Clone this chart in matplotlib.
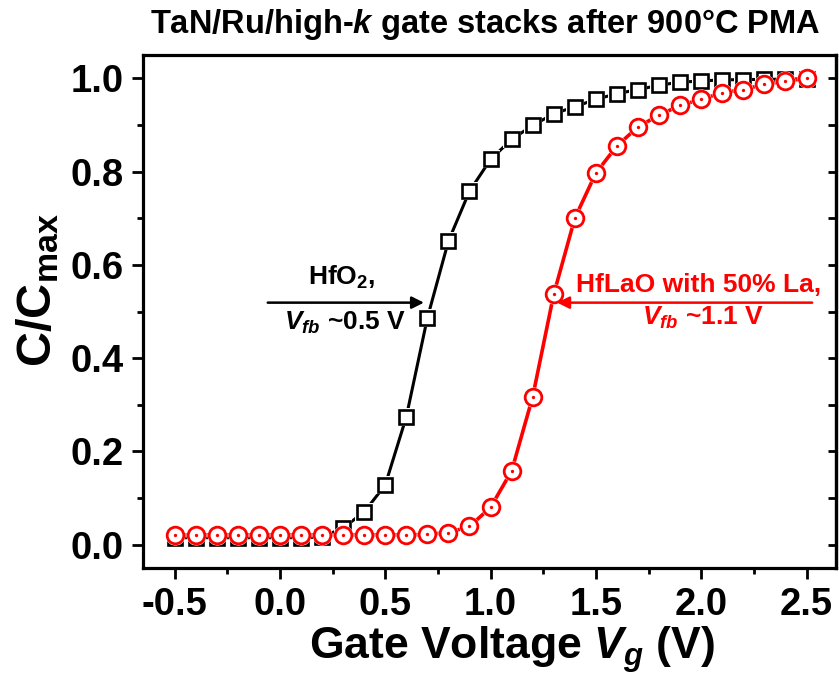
import matplotlib
matplotlib.use("Agg")
import matplotlib.pyplot as plt

plt.rcParams['font.family'] = ['Liberation Sans', 'DejaVu Sans']
plt.rcParams['font.weight'] = 'bold'
plt.rcParams['mathtext.fontset'] = 'custom'
plt.rcParams['mathtext.rm'] = 'Liberation Sans:bold'
plt.rcParams['mathtext.bf'] = 'Liberation Sans:bold'
plt.rcParams['mathtext.it'] = 'Liberation Sans:italic:bold'
plt.rcParams['mathtext.default'] = 'it'

# ---- data ----
gate_voltage = [-0.5, -0.4, -0.3, -0.2, -0.1, 0.0, 0.1, 0.2, 0.3, 0.4, 0.5,
                0.6, 0.7, 0.8, 0.9, 1.0, 1.1, 1.2, 1.3, 1.4, 1.5, 1.6,
                1.7, 1.8, 1.9, 2.0, 2.1, 2.2, 2.3, 2.4, 2.5]
hfo2_c = [0.015, 0.015, 0.015, 0.015, 0.015, 0.015, 0.015, 0.016,
          0.036, 0.070, 0.128, 0.274, 0.486, 0.651, 0.758, 0.826,
          0.869, 0.899, 0.924, 0.939, 0.955, 0.967, 0.976, 0.985,
          0.992, 0.994, 0.997, 0.997, 0.998, 0.998, 0.999]
hflao_c = [0.020, 0.021, 0.021, 0.021, 0.021, 0.021, 0.021, 0.021,
           0.021, 0.021, 0.021, 0.021, 0.022, 0.026, 0.039, 0.080,
           0.158, 0.317, 0.537, 0.700, 0.797, 0.855, 0.896, 0.921,
           0.942, 0.955, 0.969, 0.976, 0.987, 0.994, 1.000]
x_ticks = [-0.5, 0.0, 0.5, 1.0, 1.5, 2.0, 2.5]
y_ticks = [0.0, 0.2, 0.4, 0.6, 0.8, 1.0]

W, H = 839, 688
fig = plt.figure(figsize=(W / 100, H / 100), dpi=100)
L, R, T, B = 143, 836, 55, 568
ax = fig.add_axes([L / W, (H - B) / H, (R - L) / W, (B - T) / H])

# HfO2: line, white halo (gap), squares
ax.plot(gate_voltage, hfo2_c, color='black', lw=2.2, zorder=2)
ax.plot(gate_voltage, hfo2_c, ls='none', marker='s', ms=12.5, mew=0,
        mfc='white', zorder=2.5)
ax.plot(gate_voltage, hfo2_c, ls='none', marker='s', ms=9.8,
        mew=1.9, mfc='white', mec='black', zorder=3)
# HfLaO: line, halo, circles with centre dot
ax.plot(gate_voltage, hflao_c, color='red', lw=2.6, zorder=3.2)
ax.plot(gate_voltage, hflao_c, ls='none', marker='o', ms=14.5, mew=0,
        mfc='white', zorder=3.5)
ax.plot(gate_voltage, hflao_c, ls='none', marker='o', ms=12,
        mew=2.0, mfc='white', mec='red', zorder=4)
ax.plot(gate_voltage, hflao_c, ls='none', marker='o', ms=2.4, mew=0,
        mfc='red', zorder=5)

ax.set_xlim(-0.65, 2.64)
ax.set_ylim(-0.05, 1.05)
ax.set_xticks(x_ticks)
ax.set_yticks(y_ticks)
ax.set_xticks([-0.25, 0.25, 0.75, 1.25, 1.75, 2.25], minor=True)
ax.set_yticks([0.1, 0.3, 0.5, 0.7, 0.9], minor=True)
ax.set_xticklabels([f"{v:.1f}" for v in x_ticks])
ax.set_yticklabels([f"{v:.1f}" for v in y_ticks])
ax.tick_params(which='major', direction='out', length=8, width=2.0,
               labelsize=27.5, pad=6)
ax.tick_params(which='minor', direction='out', length=4.5, width=2.0)
for s in ax.spines.values():
    s.set_linewidth(2.3)

sec = ax.secondary_yaxis('right')
sec.set_yticks([0.0, 0.1, 0.2, 0.3, 0.4, 0.5, 0.6, 0.7, 0.8, 0.9, 1.0])
sec.tick_params(direction='in', length=6, width=2.0, labelright=False)
sec.spines['right'].set_linewidth(2.3)

fig.text(0.578, 1 - 33 / H, "TaN/Ru/high-$k$ gate stacks after 900°C PMA",
         ha='center', va='baseline', fontsize=23.5, fontweight='bold')
fig.text(512 / W, 1 - 659 / H, "Gate Voltage $V_g$ (V)", ha='center',
         va='baseline', fontsize=32, fontweight='bold')
fig.text(14 / W, 1 - 290 / H, "C/C$_{\\mathrm{max}}$",
         rotation=90, ha='left', va='center', fontsize=35,
         fontweight='bold')

ax.text(0.294, 0.557, "HfO$_{\\mathrm{2}}$,", ha='center', va='baseline',
        fontsize=19, color='black', fontweight='bold')
ax.text(0.31, 0.461, "$V_{fb}$ ~0.5 V", ha='center', va='baseline',
        fontsize=19, color='black', fontweight='bold')
ax.annotate("", xy=(0.697, 0.519), xytext=(-0.071, 0.519),
            arrowprops=dict(arrowstyle='-|>', color='black', lw=1.8,
                            mutation_scale=18))
ax.text(1.986, 0.542, "HfLaO with 50% La,", ha='center', va='baseline',
        fontsize=19, color='red', fontweight='bold')
ax.text(2.007, 0.472, "$V_{fb}$ ~1.1 V", ha='center', va='baseline',
        fontsize=19, color='red', fontweight='bold')
ax.annotate("", xy=(1.303, 0.519), xytext=(2.54, 0.519),
            arrowprops=dict(arrowstyle='-|>', color='red', lw=1.8,
                            mutation_scale=18), zorder=6)

fig.savefig("out.png", dpi=100)
